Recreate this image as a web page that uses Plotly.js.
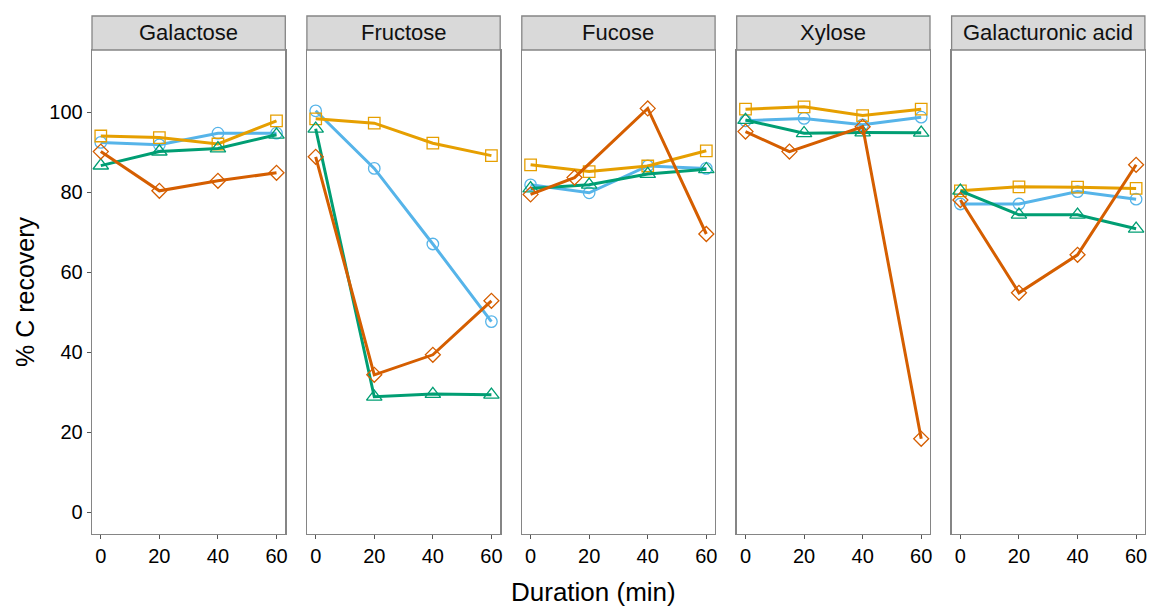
<!DOCTYPE html>
<html>
<head>
<meta charset="utf-8">
<script src="https://cdn.plot.ly/plotly-3.0.1.min.js"></script>
<style>html,body{margin:0;padding:0;background:#fff;}#chart{width:1149px;height:607px;}</style>
</head>
<body>
<div id="chart"></div>
<script>
const sugars = ["Galactose", "Fructose", "Fucose", "Xylose", "Galacturonic acid"];
const times = [0, 20, 40, 60];
const diamondTimes = [[0, 20, 40, 60], [0, 20, 40, 60], [0, 15, 40, 60], [0, 15, 40, 60], [0, 20, 40, 60]];
const squareVals = [[94, 93.6, 92, 97.8], [98.3, 97.2, 92.2, 89.1], [86.8, 85.1, 86.5, 90.3], [100.7, 101.3, 99.1, 100.7], [80.3, 81.3, 81.2, 80.9]];
const circleVals = [[92.4, 91.8, 94.7, 94.7], [100.3, 85.9, 67, 47.6], [81.8, 79.8, 86.5, 85.9], [97.8, 98.4, 96.8, 98.7], [77, 77, 80.1, 78.2]];
const triangleVals = [[86.6, 90.1, 90.9, 94.3], [95.8, 28.8, 29.5, 29.3], [80.9, 81.8, 84.5, 85.7], [98, 94.7, 94.9, 94.8], [80.3, 74.3, 74.3, 70.8]];
const diamondVals = [[90.1, 80.3, 82.8, 84.8], [88.8, 34.3, 39.3, 52.8], [79.4, 83.6, 100.9, 69.5], [95.1, 90.1, 96.3, 18.3], [78, 54.8, 64.3, 86.8]];
const yTicks = [0, 20, 40, 60, 80, 100];
const xTicks = [0, 20, 40, 60];

const series = [
  {vals: circleVals, color: "#56B4E9", symbol: "circle-open", size: 11.5},
  {vals: squareVals, color: "#E69F00", symbol: "square-open", size: 11.5},
  {vals: triangleVals, color: "#009E73", symbol: "triangle-up-open", size: 13.5},
  {vals: diamondVals, color: "#D55E00", symbol: "diamond-open", size: 11.5, times: diamondTimes}
];

const W = 1149, H = 607;
const mL = 92, mR = 4, mT = 50, mB = 73;
const pw = W - mL - mR, ph = H - mT - mB;
const step = 214.9, panelW = 193.3;
const font = "Liberation Sans, Arial, Helvetica, sans-serif";
const borderCol = "#858585";

const traces = [];
const layout = {
  width: W, height: H,
  margin: {l: mL, r: mR, t: mT, b: mB},
  paper_bgcolor: "#ffffff",
  plot_bgcolor: "#ffffff",
  showlegend: false,
  font: {family: font, color: "#000"},
  shapes: [],
  annotations: []
};

sugars.forEach((s, i) => {
  const xa = i === 0 ? "x" : "x" + (i + 1);
  const ya = i === 0 ? "y" : "y" + (i + 1);
  series.forEach(se => {
    traces.push({
      type: "scatter", mode: "lines+markers",
      x: se.times ? se.times[i] : times,
      y: se.vals[i],
      xaxis: xa, yaxis: ya,
      line: {color: se.color, width: 3},
      marker: {symbol: se.symbol, size: se.size, color: se.color, line: {width: 1.3, color: se.color}},
      hoverinfo: "x+y"
    });
  });
  const d0 = step * i / pw, d1 = (step * i + panelW) / pw;
  layout[i === 0 ? "xaxis" : "xaxis" + (i + 1)] = {
    domain: [d0, Math.min(d1, 1)], range: [-3, 63], anchor: ya,
    tickvals: xTicks, ticktext: xTicks.map(String),
    ticks: "outside", ticklen: 4, tickwidth: 1, tickcolor: "#555",
    showline: true, linecolor: borderCol, linewidth: 1.3, mirror: true,
    showgrid: false, zeroline: false,
    tickfont: {size: 20, family: font, color: "#000"}
  };
  layout[i === 0 ? "yaxis" : "yaxis" + (i + 1)] = {
    domain: [0, 1], range: [-5.5, 115.5], anchor: xa,
    tickvals: yTicks, ticktext: yTicks.map(String),
    ticks: i === 0 ? "outside" : "", ticklen: 4, tickwidth: 1, tickcolor: "#555",
    showticklabels: i === 0,
    showline: true, linecolor: borderCol, linewidth: 1.3, mirror: true,
    showgrid: false, zeroline: false,
    tickfont: {size: 20, family: font, color: "#000"}
  };
  layout.shapes.push({
    type: "rect", xref: xa + " domain", yref: "paper",
    x0: 0, x1: 1, y0: 1, y1: 1 + 34 / ph,
    fillcolor: "#d9d9d9", line: {color: borderCol, width: 1.3}, layer: "above"
  });
  layout.annotations.push({
    text: s, xref: xa + " domain", yref: "paper",
    x: 0.5, y: 1 + 17 / ph, xanchor: "center", yanchor: "middle",
    showarrow: false, font: {size: 22, family: font, color: "#111"}
  });
});

layout.annotations.push({
  text: "Duration (min)", xref: "paper", yref: "paper",
  x: (593 - mL) / pw, y: (H - mB - 592) / ph, xanchor: "center", yanchor: "middle",
  showarrow: false, font: {size: 26, family: font, color: "#000"}
});
layout.annotations.push({
  text: "% C recovery", xref: "paper", yref: "paper",
  x: (25 - mL) / pw, y: (H - mB - 292) / ph, xanchor: "center", yanchor: "middle",
  textangle: -90, showarrow: false, font: {size: 25, family: font, color: "#000"}
});

Plotly.newPlot("chart", traces, layout, {displayModeBar: false, staticPlot: true});
</script>
</body>
</html>
